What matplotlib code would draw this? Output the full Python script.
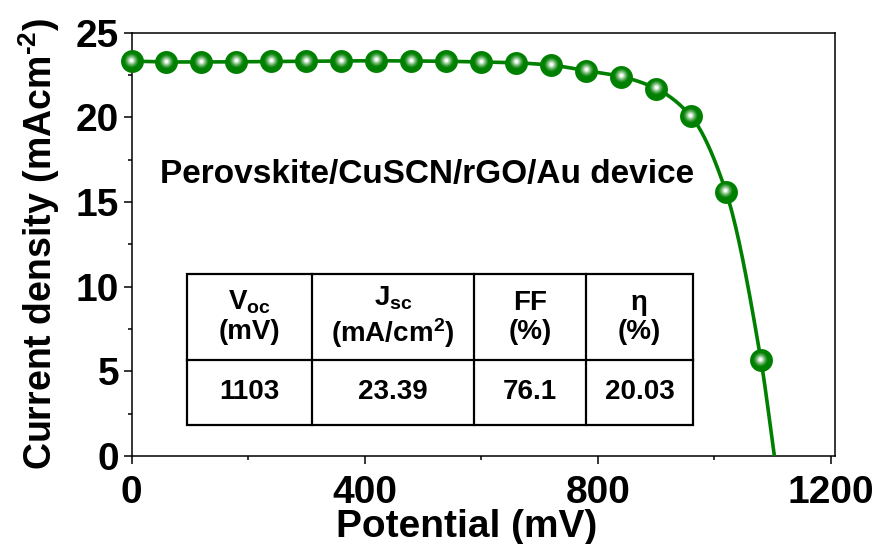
import matplotlib
matplotlib.use("Agg")
import matplotlib.pyplot as plt
import matplotlib.transforms as mtransforms
from matplotlib.colors import to_rgb
from matplotlib.patches import Rectangle
from matplotlib.ticker import MultipleLocator
import numpy as np

# Curva J-V medida (mV, mA/cm2)
potential_mv = [0, 60, 120, 180, 240, 300, 360, 420, 480, 540,
                600, 660, 720, 780, 840, 900, 960, 1020, 1080]
current_density = [23.32, 23.27, 23.27, 23.28, 23.30, 23.31, 23.33, 23.34, 23.33, 23.31,
                   23.27, 23.22, 23.08, 22.76, 22.41, 21.70, 20.06, 15.60, 5.65]

# Parámetros del dispositivo
VOC = 1103
param_headers = [r"$\mathrm{V_{oc}}$" + "\n(mV)",
                 r"$\mathrm{J_{sc}}$" + "\n" + r"(mA/cm$\mathrm{^{2}}$)",
                 "FF\n(%)",
                 "η\n(%)"]
param_values = ["1103", "23.39", "76.1", "20.03"]

device_label = "Perovskite/CuSCN/rGO/Au device"

GREEN = "#008000"

plt.rcParams["font.family"] = ["Liberation Sans", "DejaVu Sans"]
plt.rcParams["font.weight"] = "bold"
plt.rcParams["mathtext.fontset"] = "custom"
plt.rcParams["mathtext.rm"] = "Liberation Sans:bold"
plt.rcParams["mathtext.it"] = "Liberation Sans:bold"
plt.rcParams["mathtext.bf"] = "Liberation Sans:bold"


def pchip(x, y, xs):
    """Interpolación cúbica monótona (Fritsch-Carlson) para trazar la curva suave."""
    x = np.asarray(x, float)
    y = np.asarray(y, float)
    h = np.diff(x)
    delta = np.diff(y) / h
    d = np.zeros_like(y)
    d[0], d[-1] = delta[0], delta[-1]
    for k in range(1, len(x) - 1):
        if delta[k - 1] * delta[k] > 0:
            w1 = 2 * h[k] + h[k - 1]
            w2 = h[k] + 2 * h[k - 1]
            d[k] = (w1 + w2) / (w1 / delta[k - 1] + w2 / delta[k])
    idx = np.clip(np.searchsorted(x, xs) - 1, 0, len(x) - 2)
    t = (xs - x[idx]) / h[idx]
    h00 = 2 * t**3 - 3 * t**2 + 1
    h10 = t**3 - 2 * t**2 + t
    h01 = -2 * t**3 + 3 * t**2
    h11 = t**3 - t**2
    return (h00 * y[idx] + h10 * h[idx] * d[idx]
            + h01 * y[idx + 1] + h11 * h[idx] * d[idx + 1])


fig = plt.figure(figsize=(8.88, 5.44), dpi=100)
ax = fig.add_axes([0.1481, 0.1618, 0.7922, 0.7781])

# Curva suave que cierra en Voc
x_curve = potential_mv + [VOC]
y_curve = current_density + [0.0]
xs = np.linspace(0, VOC, 600)
ax.plot(xs, pchip(x_curve, y_curve, xs), color=GREEN, lw=2.6, zorder=3,
        solid_capstyle="butt")

# Marcadores esféricos: base verde y brillo radial hacia el blanco
ax.plot(potential_mv, current_density, "o", ms=16.5, color=GREEN, mec=GREEN,
        mew=0, zorder=4, clip_on=False)
g = np.array(to_rgb(GREEN))
shift = mtransforms.offset_copy(ax.transData, fig=fig, x=-0.4, y=1.0, units="points")
n_layers = 8
for i in range(n_layers):
    f = (i + 1) / n_layers
    col = g + (np.ones(3) - g) * f ** 1.2
    ax.plot(potential_mv, current_density, "o", ms=9.5 * (1 - f) + 2.2,
            color=col, mew=0, zorder=5 + i, transform=shift, clip_on=False,
            alpha=0.55 + 0.45 * f)

ax.set_xlim(0, 1207)
ax.set_ylim(0, 25)
ax.xaxis.set_major_locator(MultipleLocator(400))
ax.xaxis.set_minor_locator(MultipleLocator(200))
ax.yaxis.set_major_locator(MultipleLocator(5))
ax.yaxis.set_minor_locator(MultipleLocator(2.5))
ax.tick_params(which="major", direction="out", length=6, width=1.1,
               labelsize=28)
ax.tick_params(which="minor", direction="out", length=3, width=1.1)
ax.tick_params(top=False, right=False, which="both")
ax.tick_params(axis="x", pad=8)
ax.tick_params(axis="y", pad=3)
for lbl in ax.get_xticklabels() + ax.get_yticklabels():
    lbl.set_fontweight("bold")
for sp in ax.spines.values():
    sp.set_linewidth(1.1)

ax.set_xlabel("Potential (mV)", fontsize=28, fontweight="bold", labelpad=-3)
ax.xaxis.set_label_coords(0.476, -0.125)
ax.xaxis.label.set_va("top")
ax.set_ylabel(r"Current density (mAcm$\mathrm{^{\text{-}2}}$)", fontsize=27,
              fontweight="bold", labelpad=10)

ax.text(0.42, 0.666, device_label, transform=ax.transAxes, fontsize=24,
        fontweight="bold", ha="center", va="center")

# Tabla de parámetros fotovoltaicos
tb_left, tb_bottom, tb_width, tb_height = 0.0789, 0.0732, 0.7193, 0.3567
col_w = np.array([125, 162, 112, 107], float)
col_w = col_w / col_w.sum() * tb_width
row_split = tb_bottom + tb_height * 65 / 151
edges = tb_left + np.concatenate([[0], np.cumsum(col_w)])
ax.add_patch(Rectangle((tb_left, tb_bottom), tb_width, tb_height, fill=True,
                       facecolor="white", edgecolor="black", lw=1.6,
                       transform=ax.transAxes, zorder=6))
ax.plot([tb_left, tb_left + tb_width], [row_split, row_split], color="black",
        lw=1.6, transform=ax.transAxes, zorder=7)
for xe in edges[1:-1]:
    ax.plot([xe, xe], [tb_bottom, tb_bottom + tb_height], color="black",
            lw=1.6, transform=ax.transAxes, zorder=7)
for i, (hdr, val) in enumerate(zip(param_headers, param_values)):
    xc = (edges[i] + edges[i + 1]) / 2
    ax.text(xc, (row_split + tb_bottom + tb_height) / 2, hdr,
            transform=ax.transAxes, ha="center", va="center", fontsize=20,
            fontweight="bold", linespacing=1.15, zorder=8)
    ax.text(xc, (tb_bottom + row_split) / 2, val, transform=ax.transAxes,
            ha="center", va="center", fontsize=20, fontweight="bold", zorder=8)

fig.savefig("out.png", dpi=100)
